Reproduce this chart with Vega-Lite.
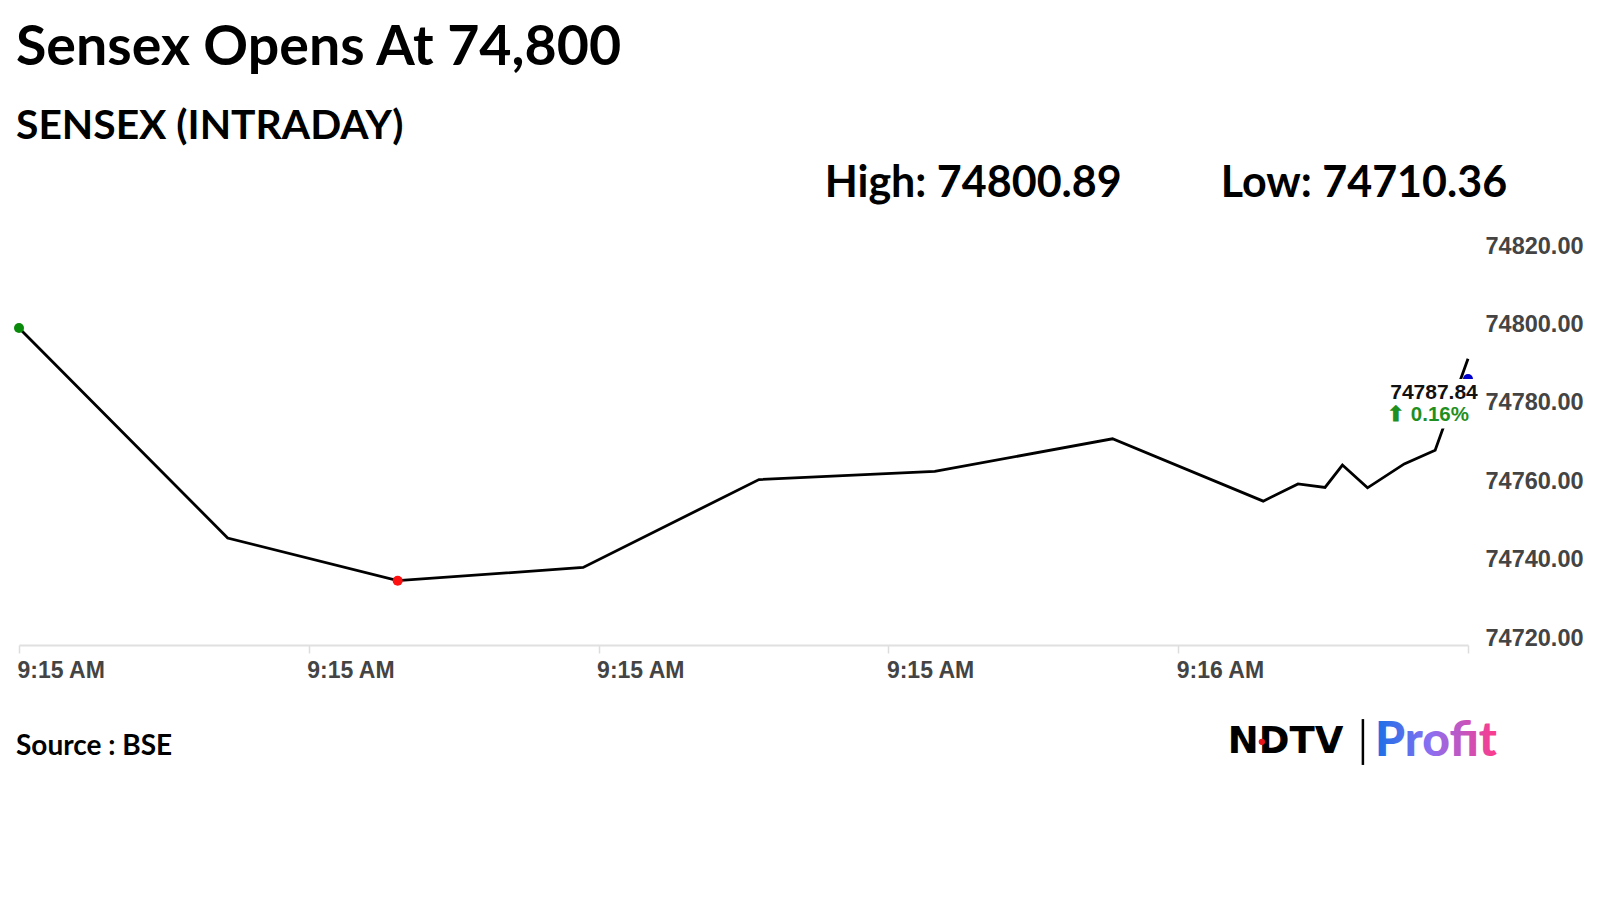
{
  "$schema": "https://vega.github.io/schema/vega-lite/v6.json",
  "width": 1449,
  "height": 392,
  "autosize": {"type": "none"},
  "padding": {"left": 19, "top": 253, "right": 132, "bottom": 255},
  "background": "white",
  "config": {"view": {"stroke": null}},
  "title": {
    "text": "Sensex Opens At 74,800",
    "subtitle": "SENSEX (INTRADAY)",
    "anchor": "start",
    "frame": "group",
    "font": "Lato",
    "fontSize": 55.5,
    "fontWeight": "bold",
    "color": "#000000",
    "subtitleFont": "Lato",
    "subtitleFontSize": 40.8,
    "subtitleFontWeight": "bold",
    "subtitleColor": "#000000",
    "subtitlePadding": 31,
    "offset": 16,
    "dx": -3
  },
  "datasets": {
    "series": [
      {"time": "2024-03-13T09:15:00.000", "value": 74800.89},
      {"time": "2024-03-13T09:15:10.800", "value": 74747.3},
      {"time": "2024-03-13T09:15:19.600", "value": 74736.4},
      {"time": "2024-03-13T09:15:29.200", "value": 74739.8},
      {"time": "2024-03-13T09:15:38.300", "value": 74762.2},
      {"time": "2024-03-13T09:15:47.400", "value": 74764.3},
      {"time": "2024-03-13T09:15:56.600", "value": 74772.6},
      {"time": "2024-03-13T09:16:04.400", "value": 74756.7},
      {"time": "2024-03-13T09:16:06.200", "value": 74761.1},
      {"time": "2024-03-13T09:16:07.600", "value": 74760.2},
      {"time": "2024-03-13T09:16:08.500", "value": 74765.9},
      {"time": "2024-03-13T09:16:09.800", "value": 74760.1},
      {"time": "2024-03-13T09:16:11.700", "value": 74766.2},
      {"time": "2024-03-13T09:16:13.300", "value": 74769.7},
      {"time": "2024-03-13T09:16:15.000", "value": 74793.0}
    ],
    "markers": [
      {"time": "2024-03-13T09:15:00.000", "value": 74800.89, "kind": "Open"},
      {"time": "2024-03-13T09:15:19.600", "value": 74736.4, "kind": "Low"},
      {"time": "2024-03-13T09:16:15.000", "value": 74787.84, "kind": "Last"}
    ]
  },
  "layer": [
    {
      "data": {"name": "series"},
      "mark": {"type": "line", "color": "#000000", "strokeWidth": 2.8},
      "encoding": {
        "x": {
          "field": "time",
          "type": "temporal",
          "scale": {
            "domain": [
              {"year": 2024, "month": 3, "date": 13, "hours": 9, "minutes": 15, "seconds": 0},
              {"year": 2024, "month": 3, "date": 13, "hours": 9, "minutes": 16, "seconds": 15}
            ]
          },
          "axis": {
            "values": [
              {"year": 2024, "month": 3, "date": 13, "hours": 9, "minutes": 15, "seconds": 0},
              {"year": 2024, "month": 3, "date": 13, "hours": 9, "minutes": 15, "seconds": 15},
              {"year": 2024, "month": 3, "date": 13, "hours": 9, "minutes": 15, "seconds": 30},
              {"year": 2024, "month": 3, "date": 13, "hours": 9, "minutes": 15, "seconds": 45},
              {"year": 2024, "month": 3, "date": 13, "hours": 9, "minutes": 16, "seconds": 0},
              {"year": 2024, "month": 3, "date": 13, "hours": 9, "minutes": 16, "seconds": 15}
            ],
            "labelExpr": "datum.index > 0.99 ? '' : timeFormat(datum.value, '%-I:%M %p')",
            "title": null,
            "grid": false,
            "domainColor": "#e0e0e0",
            "domainWidth": 2,
            "tickColor": "#dddddd",
            "tickSize": 8,
            "tickWidth": 1.5,
            "labelAlign": "left",
            "labelFont": "Liberation Sans",
            "labelFontWeight": "bold",
            "labelFontSize": 23,
            "labelColor": "#444444",
            "labelPadding": 6,
            "labelFlush": false,
            "labelOverlap": false,
            "labelOffset": -2
          }
        },
        "y": {
          "field": "value",
          "type": "quantitative",
          "scale": {"domain": [74720, 74820], "nice": false, "zero": false},
          "axis": {
            "orient": "right",
            "values": [74720, 74740, 74760, 74780, 74800, 74820],
            "format": ".2f",
            "title": null,
            "grid": false,
            "domain": false,
            "ticks": false,
            "labelPadding": 17,
            "labelBaseline": "alphabetic",
            "labelFont": "Liberation Sans",
            "labelFontWeight": "bold",
            "labelFontSize": 23.5,
            "labelColor": "#444444",
            "labelFlush": false,
            "labelOverlap": false
          }
        }
      }
    },
    {
      "data": {"name": "markers"},
      "mark": {"type": "circle", "opacity": 1},
      "encoding": {
        "x": {"field": "time", "type": "temporal"},
        "y": {"field": "value", "type": "quantitative"},
        "color": {
          "field": "kind",
          "type": "nominal",
          "scale": {"domain": ["Open", "Low", "Last"], "range": ["#0a8a0a", "#ff1010", "#0000cc"]},
          "legend": null
        },
        "size": {
          "field": "kind",
          "type": "nominal",
          "scale": {"domain": ["Open", "Low", "Last"], "range": [100, 100, 240]},
          "legend": null
        }
      }
    },
    {
      "data": {"values": [{}]},
      "mark": {"type": "rect", "color": "#ffffff", "opacity": 1},
      "encoding": {
        "x": {"datum": {"year": 2024, "month": 3, "date": 13, "hours": 9, "minutes": 16, "seconds": 10, "milliseconds": 900}, "type": "temporal"},
        "x2": {"datum": {"year": 2024, "month": 3, "date": 13, "hours": 9, "minutes": 16, "seconds": 15, "milliseconds": 600}},
        "y": {"datum": 74775.2, "type": "quantitative"},
        "y2": {"datum": 74787.84}
      }
    },
    {
      "data": {"name": "markers"},
      "transform": [{"filter": "datum.kind === 'Last'"}],
      "mark": {"type": "text", "font": "Liberation Sans", "fontWeight": "bold", "fontSize": 21, "color": "#111111", "align": "center", "baseline": "middle", "dx": -34, "dy": 14},
      "encoding": {
        "x": {"field": "time", "type": "temporal"},
        "y": {"field": "value", "type": "quantitative"},
        "text": {"field": "value", "type": "quantitative", "format": ".2f"}
      }
    },
    {
      "data": {"name": "markers"},
      "transform": [{"filter": "datum.kind === 'Last'"}],
      "mark": {"type": "text", "font": "Liberation Sans", "fontWeight": "bold", "fontSize": 20.5, "color": "#1f8f1f", "align": "center", "baseline": "middle", "dx": -40, "dy": 36},
      "encoding": {
        "x": {"field": "time", "type": "temporal"},
        "y": {"field": "value", "type": "quantitative"},
        "text": {"value": "⬆ 0.16%"}
      }
    },
    {
      "data": {"values": [{}]},
      "mark": {"type": "text", "font": "Lato", "fontWeight": "bold", "fontSize": 43, "color": "#000000", "align": "left", "baseline": "middle"},
      "encoding": {
        "x": {"datum": {"year": 2024, "month": 3, "date": 13, "hours": 9, "minutes": 15, "seconds": 41, "milliseconds": 700}, "type": "temporal"},
        "y": {"datum": 74837.6, "type": "quantitative"},
        "text": {"value": "High: 74800.89"}
      }
    },
    {
      "data": {"values": [{}]},
      "mark": {"type": "text", "font": "Lato", "fontWeight": "bold", "fontSize": 43, "color": "#000000", "align": "left", "baseline": "middle"},
      "encoding": {
        "x": {"datum": {"year": 2024, "month": 3, "date": 13, "hours": 9, "minutes": 16, "seconds": 2, "milliseconds": 200}, "type": "temporal"},
        "y": {"datum": 74837.6, "type": "quantitative"},
        "text": {"value": "Low: 74710.36"}
      }
    },
    {
      "data": {"values": [{}]},
      "mark": {"type": "text", "font": "Lato", "fontWeight": "bold", "fontSize": 28, "color": "#000000", "align": "left", "baseline": "middle", "dx": -3},
      "encoding": {
        "x": {"datum": {"year": 2024, "month": 3, "date": 13, "hours": 9, "minutes": 15, "seconds": 0}, "type": "temporal"},
        "y": {"datum": 74694, "type": "quantitative"},
        "text": {"value": "Source : BSE"}
      }
    },
    {
      "data": {"values": [{}]},
      "mark": {"type": "text", "font": "DejaVu Sans", "fontWeight": "bold", "fontSize": 37, "color": "#000000", "align": "left", "baseline": "middle"},
      "encoding": {
        "x": {"datum": {"year": 2024, "month": 3, "date": 13, "hours": 9, "minutes": 16, "seconds": 2, "milliseconds": 570}, "type": "temporal"},
        "y": {"datum": 74695.3, "type": "quantitative"},
        "text": {"value": "NDTV"}
      }
    },
    {
      "data": {"values": [{}]},
      "mark": {"type": "rule", "color": "#000000", "strokeWidth": 2.5},
      "encoding": {
        "x": {"datum": {"year": 2024, "month": 3, "date": 13, "hours": 9, "minutes": 16, "seconds": 9, "milliseconds": 560}, "type": "temporal"},
        "y": {"datum": 74701.1, "type": "quantitative"},
        "y2": {"datum": 74689.4}
      }
    },
    {
      "data": {"values": [{}]},
      "mark": {
        "type": "text", "font": "Lato", "fontWeight": 900, "fontSize": 48, "align": "left", "baseline": "middle",
        "color": {"gradient": "linear", "x1": 0, "y1": 0, "x2": 1, "y2": 0, "stops": [{"offset": 0, "color": "#1670e6"}, {"offset": 0.45, "color": "#8a6ff2"}, {"offset": 1, "color": "#ff3a8a"}]}
      },
      "encoding": {
        "x": {"datum": {"year": 2024, "month": 3, "date": 13, "hours": 9, "minutes": 16, "seconds": 10, "milliseconds": 190}, "type": "temporal"},
        "y": {"datum": 74695.3, "type": "quantitative"},
        "text": {"value": "Profit"}
      }
    },
    {
      "data": {"values": [{}]},
      "mark": {"type": "circle", "color": "#e8141c", "opacity": 1, "size": 40},
      "encoding": {
        "x": {"datum": {"year": 2024, "month": 3, "date": 13, "hours": 9, "minutes": 16, "seconds": 4, "milliseconds": 330}, "type": "temporal"},
        "y": {"datum": 74695.3, "type": "quantitative"}
      }
    }
  ]
}
